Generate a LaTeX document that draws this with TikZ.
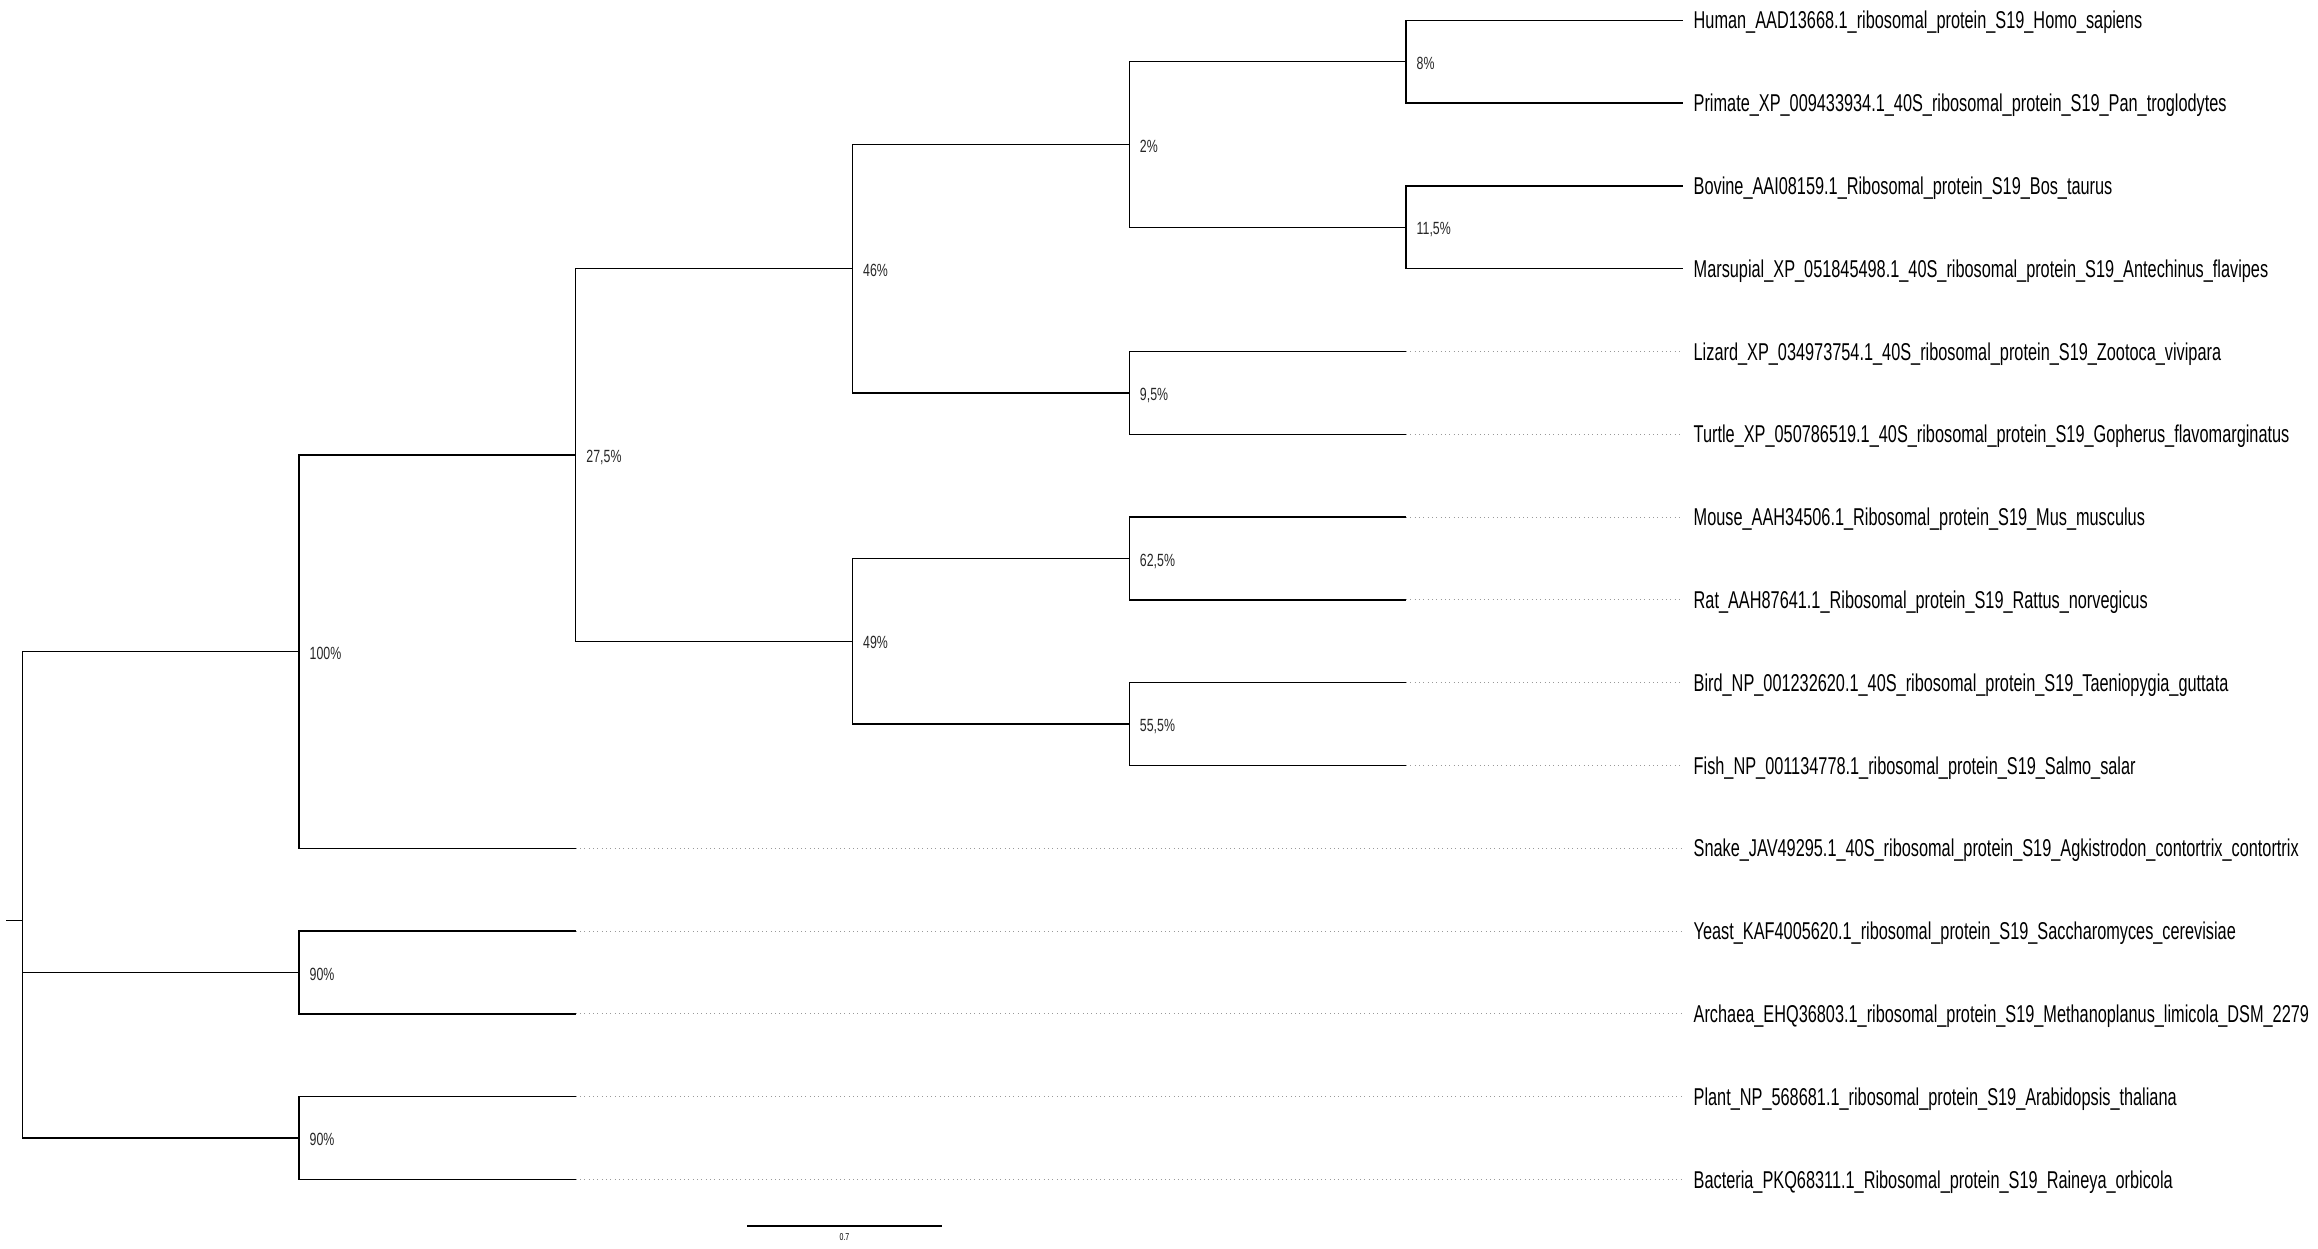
\documentclass[tikz,border=0pt]{standalone}
\usepackage{fontspec}
\setmainfont{Liberation Sans}
\newfontfamily\taxonfont[FakeStretch=0.67]{Liberation Sans}
\newfontfamily\supportfont[FakeStretch=0.7]{Liberation Sans}
\usetikzlibrary{calc}
\tikzset{
  branch/.style   = {draw=black, line width=0.4pt},
  tail/.style     = {draw=black!40, line width=0.3pt, densely dotted},
  taxon/.style    = {anchor=west, inner xsep=3pt, inner ysep=0pt,
                     font=\taxonfont\fontsize{7.3}{8}\selectfont,
                     text height=5.2pt, text depth=0pt},
  support/.style  = {anchor=west, inner sep=0pt, xshift=3pt, yshift=-0.4pt,
                     font=\supportfont\fontsize{5.3}{6}\selectfont,
                     text height=3.8pt, text depth=0pt, text=black!85},
  scalelbl/.style = {inner sep=0pt, font=\supportfont\fontsize{3}{3.5}\selectfont}
}

\begin{document}
\begin{tikzpicture}[x=0.3pt, y=-0.3pt]
  \useasboundingbox (0,0) rectangle (2318,1249);

  % leaves
  \foreach \id/\txt [count=\i from 0] in {
    human/Human\_AAD13668.1\_ribosomal\_protein\_S19\_Homo\_sapiens,
    primate/Primate\_XP\_009433934.1\_40S\_ribosomal\_protein\_S19\_Pan\_troglodytes,
    bovine/Bovine\_AAI08159.1\_Ribosomal\_protein\_S19\_Bos\_taurus,
    marsupial/Marsupial\_XP\_051845498.1\_40S\_ribosomal\_protein\_S19\_Antechinus\_flavipes,
    lizard/Lizard\_XP\_034973754.1\_40S\_ribosomal\_protein\_S19\_Zootoca\_vivipara,
    turtle/Turtle\_XP\_050786519.1\_40S\_ribosomal\_protein\_S19\_Gopherus\_flavomarginatus,
    mouse/Mouse\_AAH34506.1\_Ribosomal\_protein\_S19\_Mus\_musculus,
    rat/Rat\_AAH87641.1\_Ribosomal\_protein\_S19\_Rattus\_norvegicus,
    bird/Bird\_NP\_001232620.1\_40S\_ribosomal\_protein\_S19\_Taeniopygia\_guttata,
    fish/Fish\_NP\_001134778.1\_ribosomal\_protein\_S19\_Salmo\_salar,
    snake/Snake\_JAV49295.1\_40S\_ribosomal\_protein\_S19\_Agkistrodon\_contortrix\_contortrix,
    yeast/Yeast\_KAF4005620.1\_ribosomal\_protein\_S19\_Saccharomyces\_cerevisiae,
    archaea/Archaea\_EHQ36803.1\_ribosomal\_protein\_S19\_Methanoplanus\_limicola\_DSM\_2279,
    plant/Plant\_NP\_568681.1\_ribosomal\_protein\_S19\_Arabidopsis\_thaliana,
    bacteria/Bacteria\_PKQ68311.1\_Ribosomal\_protein\_S19\_Raineya\_orbicola}
    \node[taxon] (\id) at (1683,{20.3+82.8*\i}) {\txt};

  % inner nodes
  \coordinate (stub) at (6,920.75);
  \coordinate (root) at (22.3,920.75);
  \coordinate (n100) at (299,651.65);
  \coordinate (n90a) at (299,972.5);
  \coordinate (n90b) at (299,1138.1);
  \coordinate (n275) at (575.8,455);
  \coordinate (n46)  at (852.5,268.7);
  \coordinate (n49)  at (852.5,641.3);
  \coordinate (n2)   at (1129.3,144.5);
  \coordinate (n95)  at (1129.3,392.9);
  \coordinate (n625) at (1129.3,558.5);
  \coordinate (n555) at (1129.3,724.1);
  \coordinate (n8)   at (1406,61.7);
  \coordinate (n115) at (1406,227.3);

  \draw[branch] (stub) -- (root);
  \foreach \p/\c in {root/n100, root/n90a, root/n90b, n100/n275, n275/n46, n275/n49,
                     n46/n2, n46/n95, n2/n8, n2/n115, n49/n625, n49/n555}
    \draw[branch] (\p) |- (\c);

  \foreach \p/\id in {n8/human, n8/primate, n115/bovine, n115/marsupial}
    \draw[branch] (\p) |- (\id);

  % short tips with dotted tails
  \foreach \id/\p/\lv in {lizard/n95/n8, turtle/n95/n8, mouse/n625/n8, rat/n625/n8,
                          bird/n555/n8, fish/n555/n8, snake/n100/n275,
                          yeast/n90a/n275, archaea/n90a/n275,
                          plant/n90b/n275, bacteria/n90b/n275} {
    \coordinate (t-\id) at (\id -| \lv);
    \draw[branch] (\p) |- (t-\id);
    \draw[tail] (t-\id) -- (\id);
  }

  % support values
  \foreach \c/\t in {n8/8\%, n115/{11,5\%}, n2/2\%, n95/{9,5\%}, n46/46\%,
                     n625/{62,5\%}, n555/{55,5\%}, n49/49\%, n275/{27,5\%},
                     n100/100\%, n90a/90\%, n90b/90\%}
    \node[support] (lab-\c) at (\c) {\t};

  % scale bar
  \coordinate (sb-a) at (747,1226);
  \coordinate (sb-b) at (942,1226);
  \draw[branch] (sb-a) -- (sb-b);
  \node[scalelbl] (sb-lab) at (844.5,1237) {0.7};
\end{tikzpicture}
\end{document}
